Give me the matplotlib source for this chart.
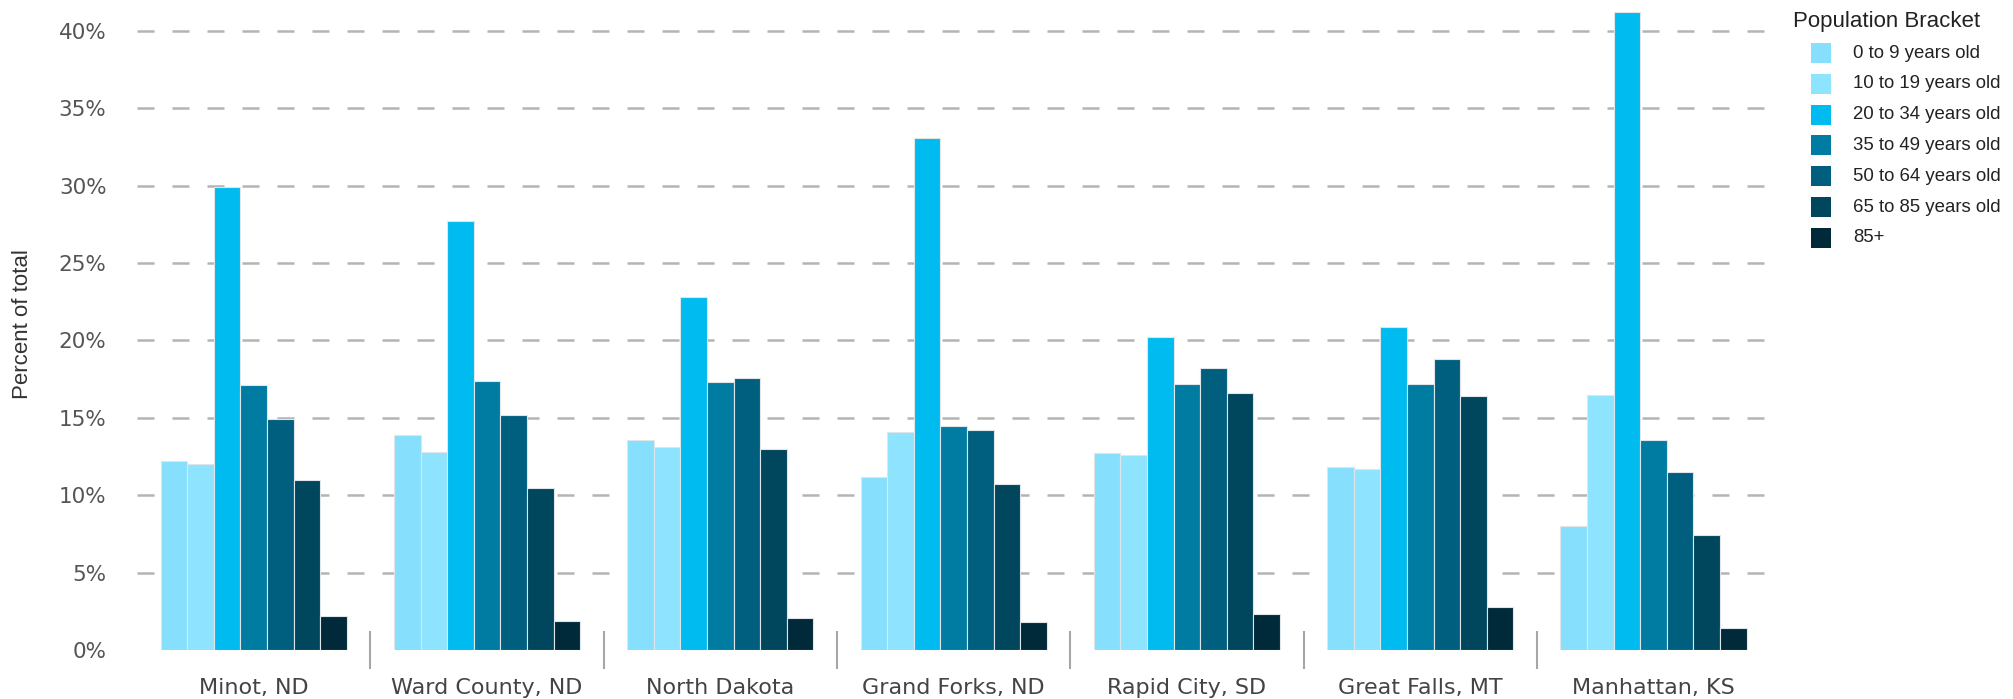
import numpy as np
import matplotlib
matplotlib.use("Agg")
import matplotlib.pyplot as plt
from matplotlib.patches import Rectangle
from matplotlib.ticker import FuncFormatter, MultipleLocator, FixedLocator

# Age distribution by place (percent of total population)
places = ["Minot, ND", "Ward County, ND", "North Dakota", "Grand Forks, ND",
          "Rapid City, SD", "Great Falls, MT", "Manhattan, KS"]
brackets = ["0 to 9 years old", "10 to 19 years old", "20 to 34 years old",
            "35 to 49 years old", "50 to 64 years old", "65 to 85 years old", "85+"]
colors = ["#86dffd", "#8ee3fe", "#00bbf0", "#007ca3", "#005f7f", "#00475e", "#002a39"]

age_0_9 = [12.2, 13.9, 13.6, 11.2, 12.7, 11.8, 8.0]
age_10_19 = [12.0, 12.8, 13.1, 14.1, 12.6, 11.7, 16.5]
age_20_34 = [29.9, 27.7, 22.8, 33.1, 20.2, 20.9, 41.2]
age_35_49 = [17.1, 17.4, 17.3, 14.5, 17.2, 17.2, 13.6]
age_50_64 = [14.9, 15.2, 17.6, 14.2, 18.2, 18.8, 11.5]
age_65_85 = [11.0, 10.5, 13.0, 10.7, 16.6, 16.4, 7.4]
age_85_up = [2.2, 1.9, 2.1, 1.8, 2.3, 2.8, 1.4]

series = [age_0_9, age_10_19, age_20_34, age_35_49, age_50_64, age_65_85, age_85_up]

fig = plt.figure(figsize=(20.13, 6.99), dpi=100)
ax = fig.add_axes([137 / 2013, 49 / 699, 1632 / 2013, 650 / 699])

period = 8.77
centers = np.arange(len(places)) * period
for j, vals in enumerate(series):
    ax.bar(centers + (j - 3), vals, width=1.0, color=colors[j],
           edgecolor="#dfe6ea", linewidth=0.8, zorder=3)

ax.set_xlim(-4.39, -4.39 + 61.35)
ax.set_ylim(0, 42)

# dashed horizontal grid, no line at zero
for v in range(5, 45, 5):
    ax.axhline(v, color="#b4b4b4", linewidth=1.8,
               linestyle=(0, (17 / 2.5, 18 / 2.5)), zorder=1)

ax.yaxis.set_major_locator(MultipleLocator(5))
ax.yaxis.set_major_formatter(FuncFormatter(lambda v, p: f"{int(v)}%"))
ax.tick_params(axis="y", length=0, pad=22, labelsize=15.5, labelcolor="#555555")

ax.set_xticks(centers)
ax.set_xticklabels(places)
ax.tick_params(axis="x", which="major", length=0, pad=20, labelsize=16, labelcolor="#444444")
ax.xaxis.set_minor_locator(FixedLocator((centers[:-1] + centers[1:]) / 2))
ax.tick_params(axis="x", which="minor", direction="inout", length=27,
               width=1.5, color="#a6a6a6")

for s in ax.spines.values():
    s.set_visible(False)

fig.text(23 / 2013, 1 - 324 / 699, "Percent of total", rotation=90,
         ha="center", va="center", fontsize=16, color="#333333",
         family="Liberation Sans")

# legend block on the right
fig.text(1793 / 2013, 1 - 22 / 699, "Population Bracket", ha="left", va="center",
         fontsize=16, color="#222222", family="Liberation Sans")
for j, lab in enumerate(brackets):
    yc = 53 + j * 30.8
    fig.patches.append(Rectangle((1811 / 2013, 1 - (yc + 10) / 699), 20 / 2013, 20 / 699,
                                 transform=fig.transFigure, facecolor=colors[j],
                                 edgecolor="none"))
    fig.text(1853 / 2013, 1 - yc / 699, lab, ha="left", va="center",
             fontsize=13.4, color="#222222", family="Liberation Sans")

fig.savefig("out.png", dpi=100)
